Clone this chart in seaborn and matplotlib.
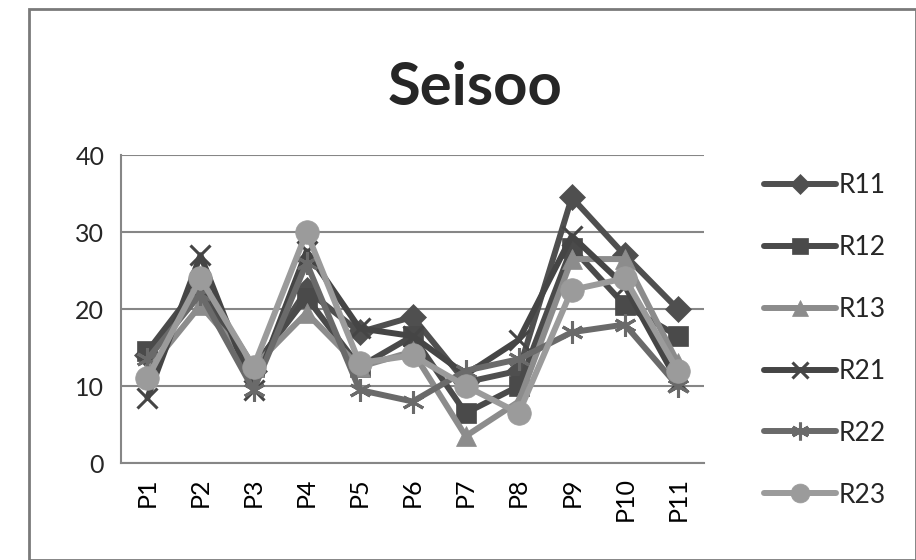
import matplotlib
matplotlib.use("Agg")
import matplotlib.pyplot as plt
import seaborn as sns
import pandas as pd
from matplotlib.patches import Rectangle

periods = ["P1", "P2", "P3", "P4", "P5", "P6", "P7", "P8", "P9", "P10", "P11"]
r11 = [14, 22, 12, 22.5, 17, 19, 10.5, 12, 34.5, 27, 20]
r12 = [14.5, 23.5, 12.5, 21.5, 12.5, 16.5, 6.5, 10, 28, 20.5, 16.5]
r13 = [12, 20.5, 12.5, 19.5, 12.5, 14.5, 3.5, 8, 26.5, 26.5, 13]
r21 = [8.5, 27, 9.5, 27.5, 17.5, 16.5, 11.5, 16, 29.5, 23, 10.5]
r22 = [13.5, 22, 9.5, 26, 9.5, 8, 12, 13.5, 17, 18, 10]
r23 = [11, 24, 12.5, 30, 13, 14, 10, 6.5, 22.5, 24, 12]
series_names = ["R11", "R12", "R13", "R21", "R22", "R23"]
y_ticks = [0, 10, 20, 30, 40]

sns.set_theme(style="white")
plt.rcParams["font.family"] = ["Lato", "DejaVu Sans"]

df = pd.DataFrame({"Periodi": periods, "R11": r11, "R12": r12, "R13": r13,
                   "R21": r21, "R22": r22, "R23": r23})

# ulkoasu: väri, merkki, koko
styles = {
    "R11": ("#4f4f4f", "D", 13),
    "R12": ("#4a4a4a", "s", 14),
    "R13": ("#8c8c8c", "^", 15),
    "R21": ("#454545", "x", 15),
    "R22": ("#6a6a6a", (6, 2, 0), 16),
    "R23": ("#9b9b9b", "o", 17),
}

fig = plt.figure(figsize=(9.16, 5.6), dpi=100)
ax = fig.add_axes([0.132, 0.173, 0.637, 0.550])

for name in series_names:
    col, mk, ms = styles[name]
    open_marker = mk == "x" or isinstance(mk, tuple)
    sns.lineplot(data=df, x="Periodi", y=name, ax=ax, sort=False, color=col,
                 linewidth=4.3, marker=mk, markersize=ms,
                 markeredgewidth=2.2 if open_marker else 0.5,
                 markeredgecolor=col, markerfacecolor=col, label=name)

ax.set_xlim(-0.5, len(periods) - 0.5)
ax.set_ylim(0, 40)
ax.set_yticks(y_ticks)
ax.set_xticks(range(len(periods)))
ax.set_xticklabels(periods, rotation=90)
ax.set_xticks([i - 0.5 for i in range(len(periods) + 1)], minor=True)
ax.tick_params(axis="x", which="major", length=0, labelsize=18, pad=10, colors="black")
ax.tick_params(axis="x", which="minor", length=6, width=1.2, color="#868686", direction="out")
ax.tick_params(axis="y", length=6, width=1.2, color="#868686", direction="out",
               labelsize=18, pad=6)
ax.set_xlabel("")
ax.set_ylabel("")
ax.yaxis.grid(True, color="#868686", linewidth=1.5)
ax.set_axisbelow(True)
for side in ["top", "right"]:
    ax.spines[side].set_visible(False)
for side in ["left", "bottom"]:
    ax.spines[side].set_color("#868686")
    ax.spines[side].set_linewidth(1.5)

fig.text(0.519, 0.843, "Seisoo", ha="center", va="center", fontsize=43, fontweight="bold")

ax.legend(loc="upper left", bbox_to_anchor=(0.822, 0.71), bbox_transform=fig.transFigure,
          frameon=False, fontsize=19, handlelength=2.76, handletextpad=0.1,
          labelspacing=1.4, borderaxespad=0, markerscale=0.8)

fig.patches.append(Rectangle((0.032, 0.0), 0.968, 0.984, transform=fig.transFigure,
                             fill=False, edgecolor="#7a7a7a", linewidth=2))

fig.savefig("out.png", dpi=100)
